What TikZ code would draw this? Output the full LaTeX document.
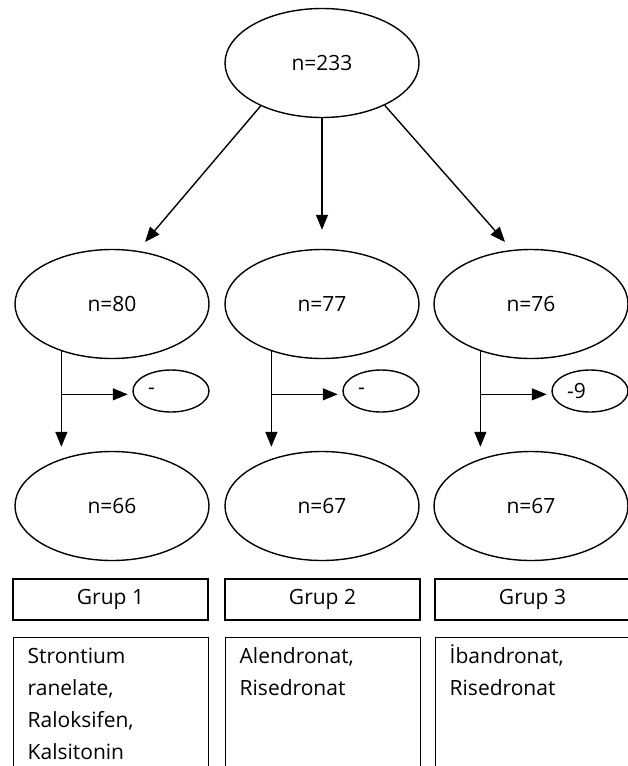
\documentclass[tikz,border=0pt]{standalone}
\usepackage{fontspec}
\setmainfont{Open Sans}
\usetikzlibrary{arrows.meta,shapes.geometric}
\begin{document}
\begin{tikzpicture}[x=1pt,y=-1pt,
  every node/.style={font=\fontsize{21}{32}\selectfont},
  big/.style={draw,ellipse,line width=1.4pt,minimum width=194pt,minimum height=109pt,inner sep=0pt},
  small/.style={draw,ellipse,line width=1.4pt,minimum width=76pt,minimum height=42pt,inner sep=0pt},
  grp/.style={draw,rectangle,line width=1.4pt,minimum width=195pt,minimum height=41pt,inner sep=0pt},
  cont/.style={draw,rectangle,line width=1.4pt,anchor=north west,inner xsep=14pt,inner ysep=3pt},
  arr/.style={line width=1.4pt,-{Triangle[length=15pt,width=12pt]}}]
\useasboundingbox (0,0) rectangle (628,766);
\fill[white] (0,0) rectangle (628,766);
\clip (0,0) rectangle (628,766);

\node[big] (top) at (322,63) {n=233};
\node[big] (m1) at (112,304) {n=80};
\node[big] (m2) at (322,304) {n=77};
\node[big] (m3) at (531,304) {n=76};

\node[small] (s1) at (171,391) {\makebox[46pt][l]{-}};
\node[small] (s2) at (381,391) {\makebox[46pt][l]{-}};
\node[small] (s3) at (590,391) {\makebox[46pt][l]{-9}};

\node[big] (b1) at (112,506) {n=66};
\node[big] (b2) at (322,506) {n=67};
\node[big] (b3) at (531,506) {n=67};

\node[grp] (g1) at (110.5,599.5) {Grup 1};
\node[grp] (g2) at (322.5,599.5) {Grup 2};
\node[grp] (g3) at (532.5,599.5) {Grup 3};

\node[cont] (c1) at (13,637) {\parbox[t][150pt][t]{167pt}{\strut Strontium\\ranelate,\\Raloksifen,\\Kalsitonin}};
\node[cont] (c2) at (225,637) {\parbox[t][150pt][t]{167pt}{\strut Alendronat,\\Risedronat}};
\node[cont] (c3) at (435,637) {\parbox[t][150pt][t]{167pt}{\strut İbandronat,\\Risedronat}};

\coordinate (t1) at (145,242);
\coordinate (t3) at (505,242);
\draw[arr] (top.215) -- (t1);
\draw[arr,shorten >=19pt] (top) -- (m2);
\draw[arr] (top.326) -- (t3);

\foreach \i in {1,2,3}{
  \draw[arr,shorten >=4pt] (m\i.223) -- (m\i.223 |- b\i.north);
  \draw[arr,shorten >=5pt] (m\i.223 |- s\i.185) -- (s\i.185);
}
\end{tikzpicture}
\end{document}
